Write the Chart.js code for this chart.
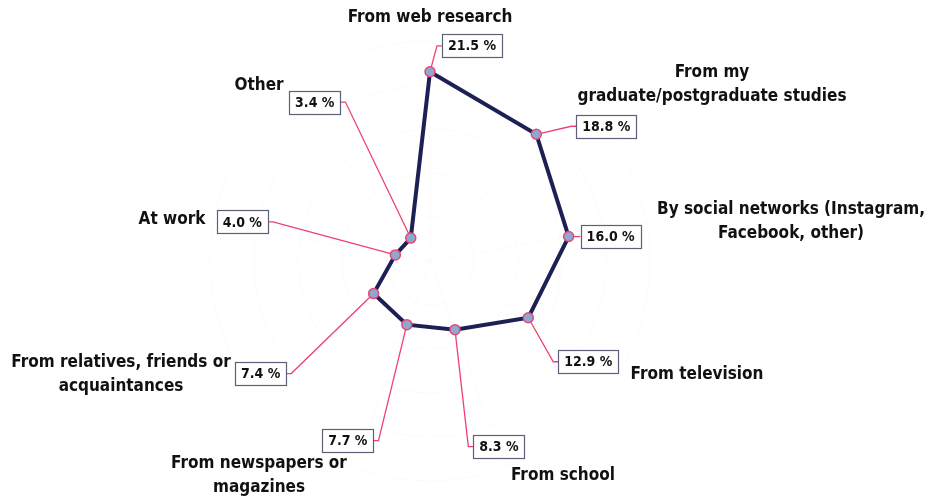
<!DOCTYPE html>
<html>
<head>
<meta charset="utf-8">
<script src="https://cdn.jsdelivr.net/npm/chart.js@4/dist/chart.umd.min.js"></script>
<style>
html,body{margin:0;padding:0;background:#fff;}
#wrap{width:936px;height:500px;}
</style>
</head>
<body>
<div id="wrap"><canvas id="c" width="936" height="500"></canvas></div>
<script>
// ---- data ----
const categories = [
  "From web research",
  ["From my", "graduate/postgraduate studies"],
  ["By social networks (Instagram,", "Facebook, other)"],
  "From television",
  "From school",
  ["From newspapers or", "magazines"],
  ["From relatives, friends or", "acquaintances"],
  "At work",
  "Other"
];
const values = [21.5, 18.8, 16.0, 12.9, 8.3, 7.7, 7.4, 4.0, 3.4];
const valueLabels = ["21.5 %", "18.8 %", "16.0 %", "12.9 %", "8.3 %", "7.7 %", "7.4 %", "4.0 %", "3.4 %"];

// ---- layout (pixel offsets, not data) ----
// value callout box centre, relative to its data point
const calloutOffsets = [[42,-26],[70,-8],[42,0],[60,44],[44,117],[-59,116],[-113,80],[-153,-33],[-96,-136]];
// category label centre, relative to the chart centre
const labelOffsets = [[0,-243],[282,-176],[361,-39],[267,114],[133,215],[-171,215],[-309,114],[-258,-41],[-171,-175]];

const LABEL_FONT = '600 17px "DejaVu Sans Condensed", "DejaVu Sans", sans-serif';
const BOX_FONT = 'bold 14px "DejaVu Sans Condensed", "DejaVu Sans", sans-serif';

const calloutPlugin = {
  id: 'callouts',
  beforeDatasetsDraw(chart) {
    const ctx = chart.ctx;
    const pts = chart.getDatasetMeta(0).data;
    ctx.save();
    ctx.font = BOX_FONT;
    ctx.strokeStyle = '#f0406e';
    ctx.lineWidth = 1.3;
    pts.forEach((p, i) => {
      const [ox, oy] = calloutOffsets[i];
      const bx = p.x + ox, by = p.y + oy;
      const w = ctx.measureText(valueLabels[i]).width + 12;
      const edgeX = ox >= 0 ? bx - w/2 : bx + w/2;
      const elbowX = ox >= 0 ? edgeX - 5 : edgeX + 5;
      ctx.beginPath();
      ctx.moveTo(p.x, p.y);
      if (Math.abs(oy) < 3) {
        ctx.lineTo(edgeX, by);
      } else {
        ctx.lineTo(elbowX, by);
        ctx.lineTo(edgeX, by);
      }
      ctx.stroke();
    });
    ctx.restore();
  },
  afterDatasetsDraw(chart) {
    const ctx = chart.ctx;
    const pts = chart.getDatasetMeta(0).data;
    const r = chart.scales.r;
    ctx.save();
    // value boxes
    ctx.font = BOX_FONT;
    ctx.textAlign = 'center';
    ctx.textBaseline = 'middle';
    pts.forEach((p, i) => {
      const [ox, oy] = calloutOffsets[i];
      const bx = p.x + ox, by = p.y + oy;
      const w = ctx.measureText(valueLabels[i]).width + 12;
      const h = 23;
      ctx.fillStyle = '#ffffff';
      ctx.fillRect(bx - w/2, by - h/2, w, h);
      ctx.strokeStyle = '#5d6078';
      ctx.lineWidth = 1.2;
      ctx.strokeRect(Math.round(bx - w/2) + 0.5, Math.round(by - h/2) + 0.5, Math.round(w), h);
      ctx.fillStyle = '#111111';
      ctx.fillText(valueLabels[i], bx, by + 1);
    });
    // category labels
    ctx.font = LABEL_FONT;
    ctx.fillStyle = '#111111';
    categories.forEach((lab, i) => {
      const lines = Array.isArray(lab) ? lab : [lab];
      const [ox, oy] = labelOffsets[i];
      const cx = r.xCenter + ox, cy = r.yCenter + oy;
      const lh = 24;
      const top = cy - (lines.length - 1) * lh / 2;
      lines.forEach((ln, k) => ctx.fillText(ln, cx, top + k * lh));
    });
    ctx.restore();
  }
};

new Chart(document.getElementById('c'), {
  type: 'radar',
  data: {
    labels: categories,
    datasets: [{
      data: values,
      borderColor: '#1d2052',
      borderWidth: 4,
      fill: false,
      pointRadius: 5,
      pointBackgroundColor: '#8da9d0',
      pointBorderColor: '#e8467c',
      pointBorderWidth: 1.5,
      tension: 0
    }]
  },
  options: {
    responsive: false,
    animation: false,
    layout: { padding: { left: 0, right: 76, top: 41, bottom: 19 } },
    plugins: { legend: { display: false }, tooltip: { enabled: false } },
    scales: {
      r: {
        min: 0,
        max: 25,
        ticks: { display: false, stepSize: 5 },
        grid: { color: 'rgba(0,0,0,0.02)', circular: true },
        angleLines: { color: 'rgba(0,0,0,0.02)' },
        pointLabels: { display: false }
      }
    }
  },
  plugins: [calloutPlugin]
});
</script>
</body>
</html>
